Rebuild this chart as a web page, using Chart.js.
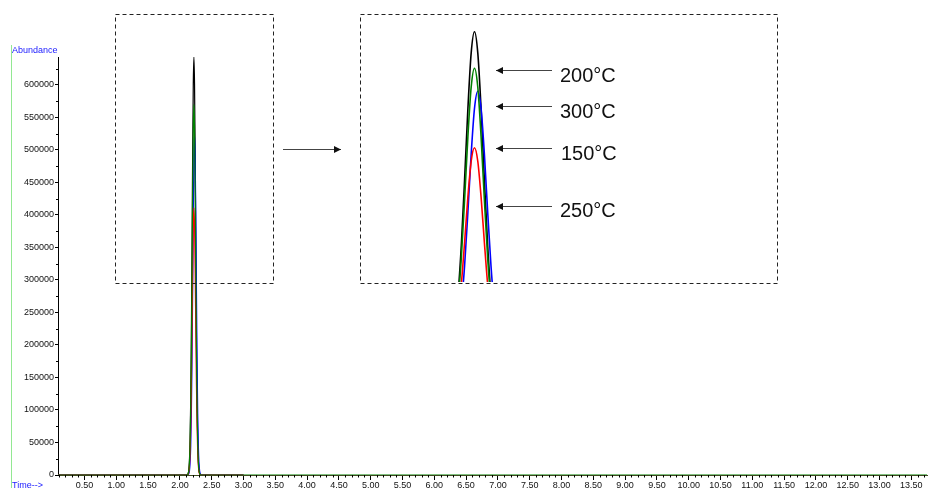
<!DOCTYPE html>
<html>
<head>
<meta charset="utf-8">
<script src="https://cdn.jsdelivr.net/npm/chart.js@4.4.1/dist/chart.umd.min.js"></script>
<style>
  html, body { margin: 0; padding: 0; background: #fff; }
  #wrap { position: relative; width: 928px; height: 488px; overflow: hidden;
          font-family: "Liberation Sans", Arial, sans-serif; }
  #mainChart { position: absolute; left: 0; top: 0; }
  #insetChart { position: absolute; left: 361px; top: 15px; }
  .lbl { position: absolute; font-size: 20px; line-height: 20px; color: #111; white-space: nowrap; }
  .axlbl { position: absolute; font-size: 9px; line-height: 9px; color: #1a1aff; white-space: nowrap; }
  #greenbar { position: absolute; left: 11px; top: 45px; width: 1px; height: 443px; background: #92e892; }
</style>
</head>
<body>
<div id="wrap">
  <div id="greenbar"></div>
  <canvas id="mainChart" width="928" height="488"></canvas>
  <canvas id="insetChart" width="416" height="267"></canvas>
  <div class="axlbl" style="left:12px;top:46px;">Abundance</div>
  <div class="axlbl" style="left:12px;top:481px;">Time--&gt;</div>
  <div class="lbl" style="left:560px;top:65px;">200°C</div>
  <div class="lbl" style="left:560px;top:101px;">300°C</div>
  <div class="lbl" style="left:561px;top:143px;">150°C</div>
  <div class="lbl" style="left:560px;top:200px;">250°C</div>
</div>
<script>
// Tiempos (min) del cromatograma
const times = [0.083, 2.00,
  2.11, 2.12, 2.13, 2.14, 2.15, 2.16, 2.17, 2.18, 2.19, 2.20, 2.21, 2.22,
  2.23, 2.24, 2.25, 2.26, 2.27, 2.28, 2.29, 2.30, 2.31, 2.32, 2.33, 2.34,
  2.40, 3.00, 13.747];

// Abundancia de cada serie
const black200 = [0, 0,
  0, 600, 2600, 7700, 22500, 54700, 115700, 214800, 346600, 488700, 600600, 643000,
  600600, 488700, 346600, 214800, 115700, 54700, 22500, 7700, 2600, 600, 0, 0,
  0, 0, null];
const green200 = [0, 0,
  0, 600, 2300, 6800, 20000, 48500, 102600, 190400, 307200, 433200, 532400, 570000,
  532400, 433200, 307200, 190400, 102600, 48500, 20000, 6800, 2300, 600, 0, 0,
  0, 0, 0];
const blue300 = [0, 0,
  0, 0, 500, 2100, 6300, 18300, 44500, 94300, 175000, 282400, 398200, 489400,
  524000, 489400, 398200, 282400, 175000, 94300, 44500, 18300, 6300, 2100, 500, 0,
  0, 0, null];
const red150 = [0, 0,
  0, 400, 1600, 4900, 14400, 34900, 74000, 137300, 221500, 312400, 383900, 411000,
  383900, 312400, 221500, 137300, 74000, 34900, 14400, 4900, 1600, 400, 0, 0,
  0, 0, null];

const xTickValues = [0.5, 1.0, 1.5, 2.0, 2.5, 3.0, 3.5, 4.0, 4.5, 5.0, 5.5, 6.0, 6.5,
  7.0, 7.5, 8.0, 8.5, 9.0, 9.5, 10.0, 10.5, 11.0, 11.5, 12.0, 12.5, 13.0, 13.5];
const yTickValues = [0, 50000, 100000, 150000, 200000, 250000, 300000, 350000,
  400000, 450000, 500000, 550000, 600000];

const xMin = 0.083, xMax = 13.747;
const yMax = 643000;

Chart.defaults.font.family = "'Liberation Sans', Arial, sans-serif";

function toPoints(values) {
  return times.map((t, i) => ({ x: t, y: values[i] }));
}

// el primer dataset queda encima
function buildDatasets(width) {
  const series = [
    { data: green200, color: "#008000" },
    { data: red150, color: "#ff0000" },
    { data: blue300, color: "#0000ff" },
    { data: black200, color: "#000000" },
  ];
  return series.map((s) => ({
    data: toPoints(s.data),
    borderColor: s.color,
    borderWidth: width,
    pointRadius: 0,
    fill: false,
    spanGaps: false,
    cubicInterpolationMode: "monotone",
  }));
}

// Marcas menores, recuadros punteados y flechas
const decorations = {
  id: "decorations",
  afterDraw(chart) {
    const { ctx, chartArea: a } = chart;
    const x = chart.scales.x, y = chart.scales.y;
    ctx.save();
    ctx.strokeStyle = "#000";
    ctx.lineWidth = 1;
    ctx.beginPath();
    for (let i = 1; i <= 137; i++) {
      if (i % 5 === 0) continue;
      const px = Math.round(x.getPixelForValue(i / 10)) + 0.5;
      if (px < a.left || px > a.right) continue;
      ctx.moveTo(px, a.bottom);
      ctx.lineTo(px, a.bottom + 2.5);
    }
    for (let v = 25000; v < yMax; v += 50000) {
      const py = Math.round(y.getPixelForValue(v)) + 0.5;
      ctx.moveTo(a.left, py);
      ctx.lineTo(a.left - 2, py);
    }
    ctx.stroke();

    // recuadros
    ctx.setLineDash([4, 3]);
    ctx.strokeStyle = "#222";
    ctx.strokeRect(115.5, 14.5, 158, 269);
    ctx.strokeRect(360.5, 14.5, 417, 269);
    ctx.setLineDash([]);

    // flechas
    const arrow = (x1, x2, yy) => {
      ctx.strokeStyle = "#444";
      ctx.fillStyle = "#111";
      ctx.beginPath();
      ctx.moveTo(x1, yy);
      ctx.lineTo(x2, yy);
      ctx.stroke();
      const dir = x2 > x1 ? 1 : -1;
      ctx.beginPath();
      ctx.moveTo(x2, yy);
      ctx.lineTo(x2 - dir * 7, yy - 3.5);
      ctx.lineTo(x2 - dir * 7, yy + 3.5);
      ctx.closePath();
      ctx.fill();
    };
    arrow(283, 341, 149.5);
    arrow(552, 496, 70.5);
    arrow(552, 496, 106.5);
    arrow(552, 496, 148.5);
    arrow(552, 496, 206.5);
    ctx.restore();
  },
};

new Chart(document.getElementById("mainChart").getContext("2d"), {
  type: "line",
  data: { datasets: buildDatasets(1.2) },
  options: {
    responsive: false,
    animation: false,
    devicePixelRatio: 1,
    layout: { padding: { top: 57, right: 1, left: 0, bottom: 0 } },
    plugins: { legend: { display: false }, tooltip: { enabled: false } },
    scales: {
      x: {
        type: "linear",
        min: xMin,
        max: xMax,
        z: 1,
        afterBuildTicks: (s) => { s.ticks = xTickValues.map((v) => ({ value: v })); },
        afterFit: (s) => { s.height = 13; },
        grid: { drawOnChartArea: false, tickLength: 5, color: "#000" },
        border: { color: "#3c4a1c", width: 1 },
        ticks: {
          color: "#111",
          font: { size: 9 },
          padding: 0,
          maxRotation: 0,
          autoSkip: false,
          callback: (v) => Number(v).toFixed(2),
        },
      },
      y: {
        min: 0,
        max: yMax,
        afterBuildTicks: (s) => { s.ticks = yTickValues.map((v) => ({ value: v })); },
        afterFit: (s) => { s.width = 58; },
        grid: { drawOnChartArea: false, tickLength: 3, color: "#000" },
        border: { color: "#000", width: 1 },
        ticks: {
          color: "#111",
          font: { size: 9 },
          padding: 1,
          callback: (v) => String(v),
        },
      },
    },
  },
  plugins: [decorations],
});

// Ampliación del pico
new Chart(document.getElementById("insetChart").getContext("2d"), {
  type: "line",
  data: { datasets: buildDatasets(1.6) },
  options: {
    responsive: false,
    animation: false,
    devicePixelRatio: 1,
    layout: { padding: 0 },
    plugins: { legend: { display: false }, tooltip: { enabled: false } },
    scales: {
      x: { type: "linear", min: 1.876, max: 3.137, display: false },
      y: { min: 142400, max: 676400, display: false },
    },
  },
});
</script>
</body>
</html>
